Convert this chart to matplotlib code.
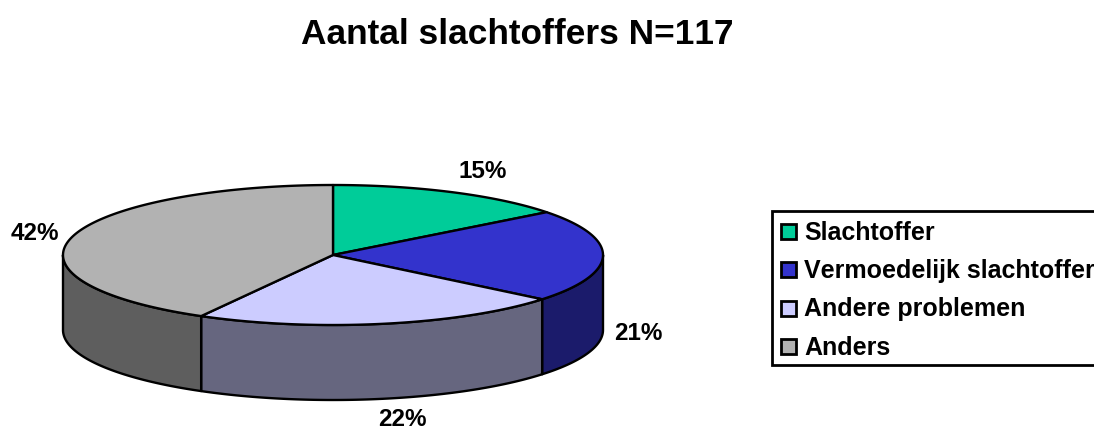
import numpy as np
import matplotlib
matplotlib.use('Agg')
import matplotlib.pyplot as plt
from matplotlib.patches import Polygon, Rectangle

plt.rcParams['font.family'] = ['Liberation Sans', 'DejaVu Sans']
plt.rcParams['text.kerning_factor'] = 6

# Data
title = 'Aantal slachtoffers N=117'
categories = ['Slachtoffer', 'Vermoedelijk slachtoffer', 'Andere problemen', 'Anders']
counts = [17, 25, 26, 49]
top_colors = ['#00CC99', '#3333CC', '#CCCCFF', '#B2B2B2']
side_colors = ['#006B50', '#1B1B6B', '#66667F', '#5E5E5E']

# Pie geometry, in pixels
CX, CY = 333, 255
RX, RY = 270, 70
DEPTH = 75

# label positions per slice
label_pos = [(483, 171), (638, 333), (402, 420), (35, 233)]


def rim(a0, a1, n=200):
    # angle runs clockwise from 12 o'clock
    t = np.radians(np.linspace(a0, a1, n))
    return CX + RX * np.sin(t), CY - RY * np.cos(t)


fig = plt.figure(figsize=(10.94, 4.30), dpi=100)
ax = fig.add_axes([0, 0, 1, 1])
ax.set_xlim(0, 1094)
ax.set_ylim(430, 0)
ax.axis('off')

edges = np.concatenate([[0], np.cumsum(counts)]) / sum(counts) * 360

# side wall, only the front half of the rim is visible
for i in range(len(counts)):
    a0 = max(edges[i], 90)
    a1 = min(edges[i + 1], 270)
    if a1 <= a0:
        continue
    x, y = rim(a0, a1)
    xs = np.concatenate([x, x[::-1]])
    ys = np.concatenate([y, y[::-1] + DEPTH])
    ax.add_patch(Polygon(np.column_stack([xs, ys]), closed=True, fc=side_colors[i],
                         ec='black', lw=1.7, joinstyle='round'))

# top face
for i in range(len(counts)):
    x, y = rim(edges[i], edges[i + 1])
    xs = np.concatenate([[CX], x])
    ys = np.concatenate([[CY], y])
    ax.add_patch(Polygon(np.column_stack([xs, ys]), closed=True, fc=top_colors[i],
                         ec='black', lw=1.7, joinstyle='round'))

# percent labels
for c, (lx, ly) in zip(counts, label_pos):
    ax.text(lx, ly, f'{c / sum(counts) * 100:.0f}%', fontsize=17.5, fontweight='bold',
            ha='center', va='center')

ax.text(517, 35, title, fontsize=25.4, fontweight='bold', ha='center', va='center')

# legend box
ax.add_patch(Rectangle((772, 211), 340, 154, fc='white', ec='black', lw=2))
for i, name in enumerate(categories):
    ly = 231.5 + i * 38.4
    ax.add_patch(Rectangle((781, ly - 7.5), 15, 15, fc=top_colors[i], ec='black', lw=2))
    ax.text(804, ly + 1, name, fontsize=18, fontweight='bold', ha='left', va='center')

fig.savefig('out.png', dpi=100)
